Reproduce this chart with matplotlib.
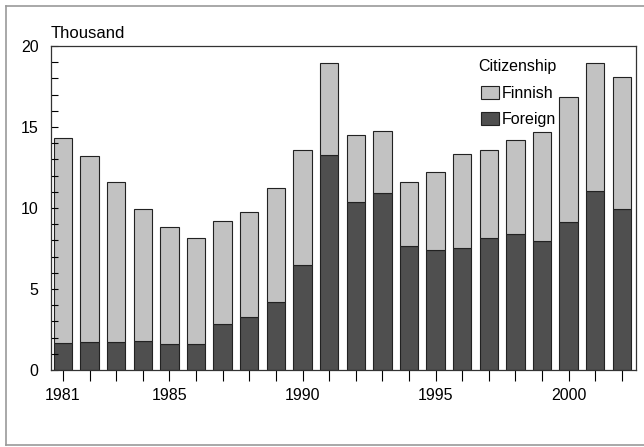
import matplotlib
matplotlib.use("Agg")
import matplotlib.pyplot as plt
from matplotlib.lines import Line2D
from matplotlib.ticker import MultipleLocator

plt.rcParams["font.family"] = ["Liberation Sans Narrow", "Liberation Sans", "DejaVu Sans"]

years = list(range(1981, 2003))
foreign = [1.65, 1.71, 1.71, 1.79, 1.63, 1.58, 2.84, 3.25, 4.22, 6.48, 13.25,
           10.35, 10.9, 7.65, 7.39, 7.55, 8.17, 8.37, 7.96, 9.14, 11.07, 9.96]
total = [14.32, 13.23, 11.6, 9.94, 8.81, 8.15, 9.18, 9.73, 11.23, 13.56, 18.97,
         14.49, 14.73, 11.63, 12.24, 13.31, 13.56, 14.18, 14.69, 16.85, 18.97, 18.07]
finnish = [t - f for t, f in zip(total, foreign)]
year_labels = ["1981", "1985", "1990", "1995", "2000"]

fig = plt.figure(figsize=(6.44, 4.47), dpi=100)
ax = fig.add_axes([0.0792, 0.1723, 0.9084, 0.7248])

light, dark = "#c2c2c2", "#4f4f4f"
ax.bar(years, foreign, width=0.69, color=dark, edgecolor="#222222", linewidth=0.8,
       label="Foreign")
ax.bar(years, finnish, width=0.69, bottom=foreign, color=light, edgecolor="#222222",
       linewidth=0.8, label="Finnish")

ax.set_xlim(1980.55, 2002.53)
ax.set_ylim(0, 20)
ax.set_xticks(years)
ax.set_xticklabels([str(y) if str(y) in year_labels else "" for y in years])
ax.yaxis.set_major_locator(MultipleLocator(5))
ax.yaxis.set_minor_locator(MultipleLocator(1))
ax.tick_params(axis="y", which="both", direction="in", length=5, width=0.8,
               labelsize=11.5, pad=9)
ax.tick_params(axis="x", direction="out", length=8, width=0.8, labelsize=11.5, pad=5)
for spine in ax.spines.values():
    spine.set_linewidth(0.9)
    spine.set_color("#333333")

fig.text(0.0792, 0.915, "Thousand", fontsize=12, ha="left", va="baseline")

handles, labels = ax.get_legend_handles_labels()
leg = fig.legend(handles[::-1], labels[::-1], title="Citizenship", loc="upper left",
                 bbox_to_anchor=(0.725, 0.892), frameon=False, fontsize=11.5,
                 title_fontsize=11.5, handlelength=1.1, handleheight=0.9,
                 handletextpad=0.2, labelspacing=0.7, borderpad=0.2)
leg._legend_box.align = "right"

# outer frame of the figure
border = dict(color="#9a9a9a", linewidth=1.2, transform=fig.transFigure)
fig.add_artist(Line2D([6 / 644, 6 / 644], [2 / 447, 441 / 447], **border))
fig.add_artist(Line2D([6 / 644, 1.0], [441 / 447, 441 / 447], **border))
fig.add_artist(Line2D([6 / 644, 1.0], [2 / 447, 2 / 447], **border))

fig.savefig("out.png", dpi=100)
